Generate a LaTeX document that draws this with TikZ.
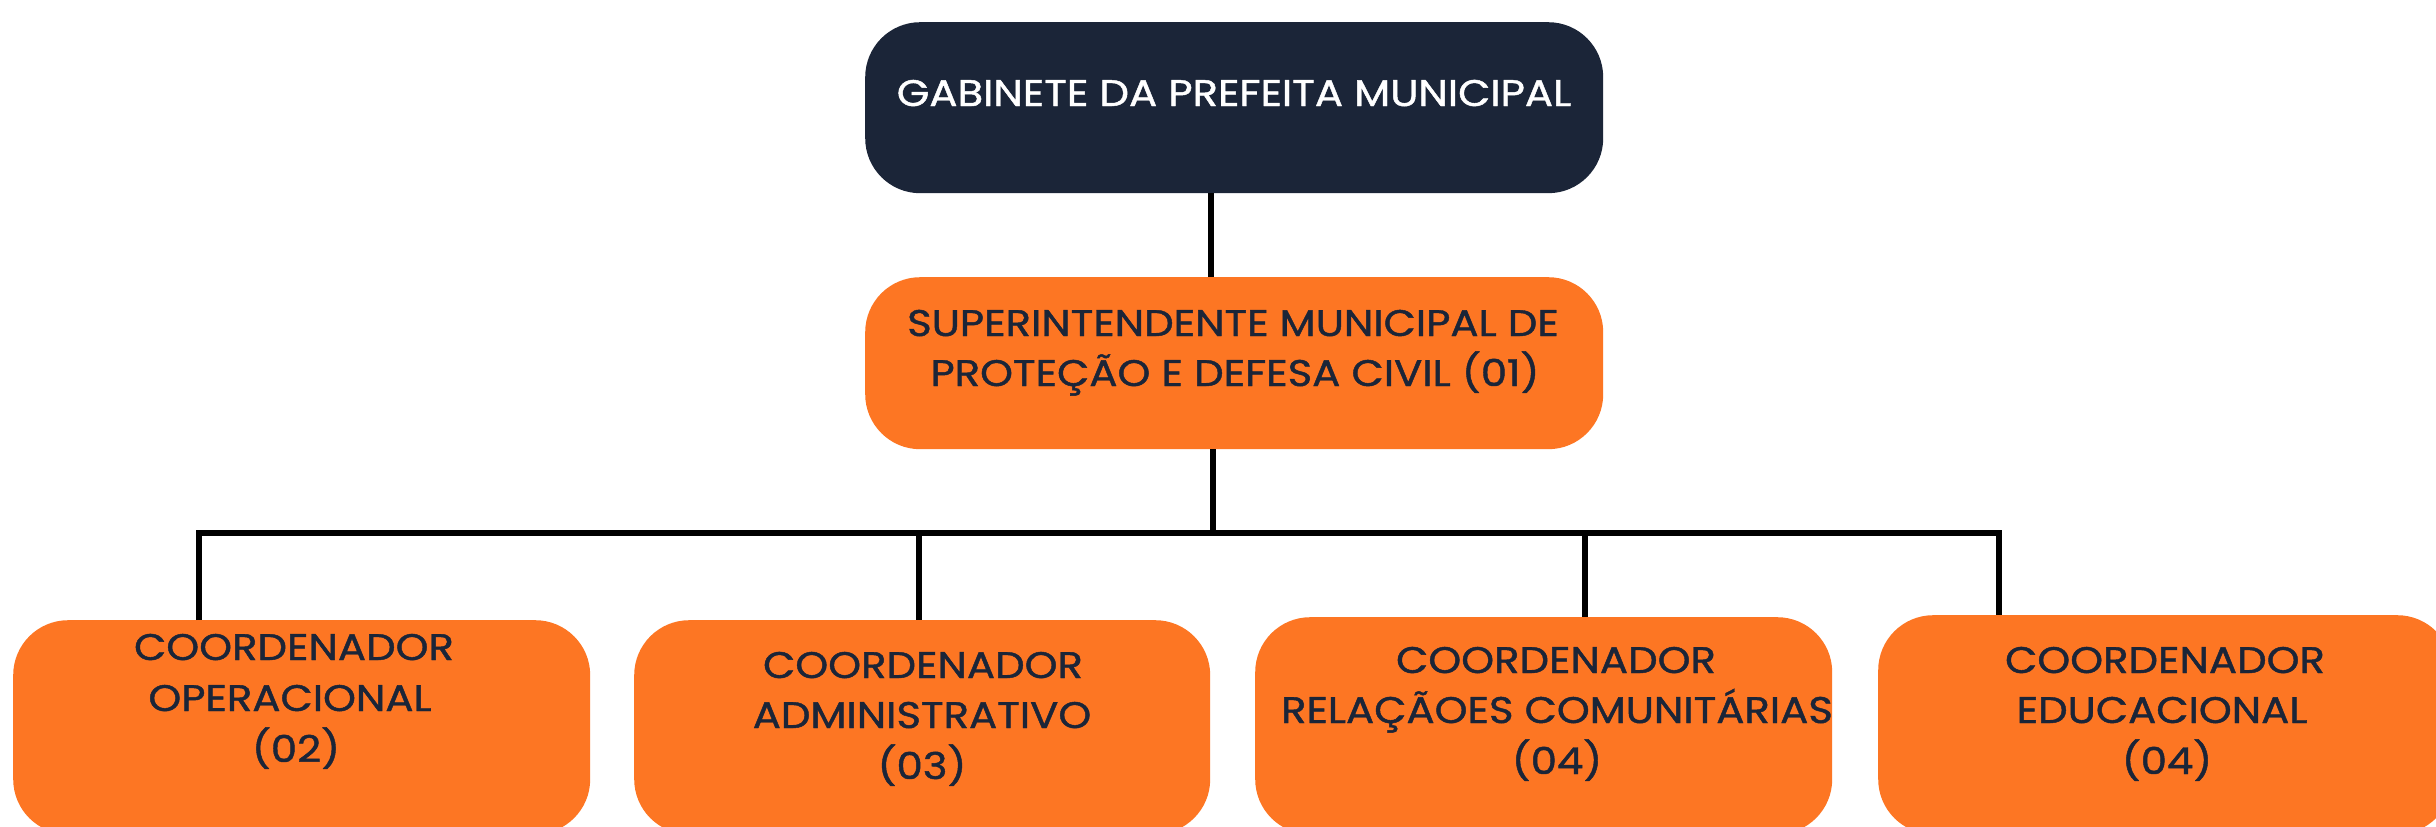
\documentclass[tikz,border=0pt]{standalone}
\usepackage{fontspec}
\setmainfont{Poppins}
\newfontfamily\lblfont{Poppins}[FakeStretch=1.13, FakeBold=1.2]
\definecolor{navy}{HTML}{1B2538}
\definecolor{orng}{HTML}{FD7623}
\begin{document}
\begin{tikzpicture}[x=1pt,y=-1pt,
  box/.style={rounded corners=55pt, inner sep=0pt, anchor=north west, draw=none},
  darkbox/.style={box, fill=navy},
  orbox/.style={box, fill=orng},
  lbl/.style={anchor=base, inner sep=0pt, text=navy, font=\lblfont\fontsize{37}{44}\selectfont},
  wlbl/.style={lbl, text=white},
  conn/.style={draw=black, line width=5.5pt}
]
\useasboundingbox (0,0) rectangle (2436,827);
\fill[white] (0,0) rectangle (2436,827);
\clip (0,0) rectangle (2436,827);

% boxes
\node[darkbox, minimum width=738pt, minimum height=171pt] (top) at (865,22) {};
\node[orbox, minimum width=738pt, minimum height=172pt] (sup) at (865,277) {};
\node[orbox, minimum width=577pt, minimum height=214pt] (c1) at (13,620) {};
\node[orbox, minimum width=576pt, minimum height=214pt] (c2) at (634,620) {};
\node[orbox, minimum width=577pt, minimum height=217pt] (c3) at (1255,617) {};
\node[orbox, minimum width=574pt, minimum height=219pt] (c4) at (1878,615) {};

% texts
\node[wlbl] (t0) at (1234,106) {GABINETE DA PREFEITA MUNICIPAL};
\node[lbl] (s1) at (1233,336) {SUPERINTENDENTE MUNICIPAL DE};
\node[lbl] (s2) at (1235,386) {PROTEÇÃO E DEFESA CIVIL (01)};
\node[lbl] (a1) at (294,660) {COORDENADOR};
\node[lbl] (a2) at (290,711) {OPERACIONAL};
\node[lbl] (a3) at (296,762) {(02)};
\node[lbl] (b1) at (923,678) {COORDENADOR};
\node[lbl] (b2) at (922,728) {ADMINISTRATIVO};
\node[lbl] (b3) at (922,779) {(03)};
\node[lbl] (d1) at (1556,673) {COORDENADOR};
\node[lbl] (d2) at (1557,723) {RELAÇÃOES COMUNITÁRIAS};
\node[lbl] (d3) at (1557,774) {(04)};
\node[lbl] (e1) at (2165,673) {COORDENADOR};
\node[lbl] (e2) at (2162,723) {EDUCACIONAL};
\node[lbl] (e3) at (2167,774) {(04)};

% connectors
\coordinate (busL) at (199,533);
\coordinate (busR) at (1999,533);
\draw[conn] ([xshift=-23pt]top.south) -- ([xshift=-23pt]sup.north);
\draw[conn] ([xshift=-21pt]sup.south) -- ([xshift=-21pt]sup.south |- busL);
\draw[conn] (busL |- c1.north) -- (busL) -- (busR) -- (busR |- c4.north);
\draw[conn] (919,533) -- (919,0 |- c2.north);
\draw[conn] (1585,533) -- (1585,0 |- c3.north);
\end{tikzpicture}
\end{document}
